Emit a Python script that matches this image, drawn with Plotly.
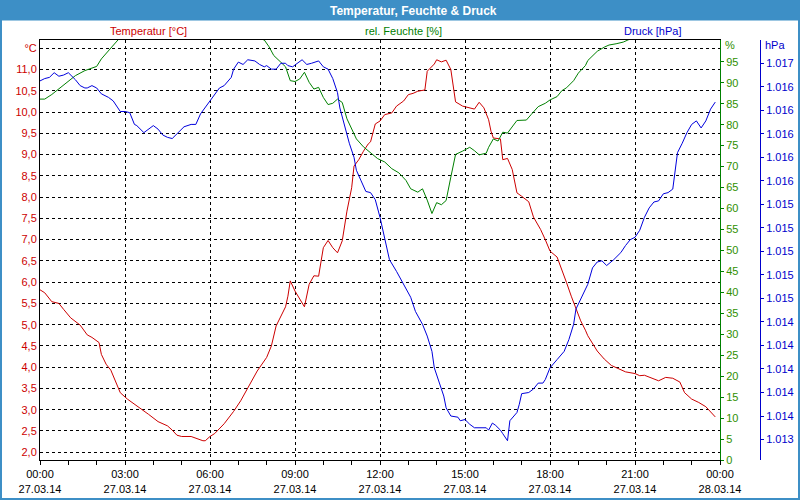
import plotly.graph_objects as go
import pandas as pd

DAY = "2014-03-27 "

temp_times = ["00:00","00:10","00:25","00:40","00:50","01:05","01:25","01:40","01:50","02:05","02:10","02:20","02:30","02:40","02:50",
              "03:05","03:20","03:35","03:50","04:10","04:30","04:40","04:50","05:00","05:20","05:45","05:50","06:00","06:10","06:30",
              "06:50","07:05","07:20","07:40","08:00","08:10","08:20","08:30","08:40","08:45","08:50","09:00","09:20","09:30","09:40",
              "09:50","10:00","10:10","10:20","10:30","10:40","10:50","10:55","11:00","11:05","11:15","11:25","11:35","11:40","11:50",
              "12:00","12:10","12:25","12:35","12:50","13:00","13:10","13:20","13:35","13:40","13:55","14:00","14:10","14:20","14:30",
              "14:35","14:40","14:55","15:10","15:20","15:30","15:40","15:50","15:55","16:00","16:15","16:20","16:30","16:40","16:50",
              "17:00","17:15","17:25","17:40","17:50","18:00","18:15","18:25","18:35","18:45","18:55","19:05","19:15","19:20","19:40",
              "19:55","20:10","20:25","20:40","21:00","21:10","21:20","21:35","21:50","22:05","22:20","22:35","22:45","23:00","23:15",
              "23:30","23:40","23:50"]
temp_values = [5.82,5.75,5.54,5.50,5.36,5.16,4.99,4.76,4.70,4.58,4.30,4.07,3.93,3.68,3.40,
               3.25,3.13,3.03,2.89,2.72,2.62,2.52,2.40,2.37,2.37,2.27,2.27,2.37,2.44,2.67,
               2.96,3.21,3.50,3.91,4.23,4.50,4.97,5.20,5.42,5.67,6.03,5.79,5.42,5.95,6.15,
               6.14,6.81,6.98,6.81,6.69,6.97,7.67,7.98,8.22,8.73,8.88,9.08,9.25,9.30,9.72,
               9.79,9.94,9.98,10.14,10.26,10.41,10.44,10.49,10.52,10.96,11.13,11.23,11.18,11.22,11.00,
               10.57,10.24,10.14,10.10,10.07,10.23,10.10,9.82,9.55,9.39,9.37,8.88,8.91,8.65,8.10,
               8.02,7.89,7.53,7.24,7.00,6.73,6.59,6.30,5.99,5.67,5.36,5.09,4.87,4.74,4.38,
               4.19,4.04,3.97,3.89,3.85,3.80,3.81,3.74,3.68,3.76,3.74,3.65,3.40,3.25,3.17,
               3.07,2.96,2.83]

hum_times = ["00:00","00:10","00:25","00:40","01:00","01:15","01:35","02:00","02:10","02:30","02:45","03:00","04:00","05:00","06:00",
             "07:00","07:30","07:55","08:05","08:15","08:30","08:40","08:50","09:00","09:10","09:20","09:30","09:40","09:50","10:00",
             "10:10","10:20","10:30","10:40","10:50","11:00","11:10","11:25","11:40","11:55","12:10","12:25","12:40","12:55","13:05",
             "13:20","13:30","13:40","13:50","14:00","14:10","14:20","14:30","14:40","14:55","15:10","15:20","15:30","15:45","15:50",
             "16:00","16:10","16:20","16:30","16:50","17:10","17:20","17:35","17:50","18:00","18:15","18:25","18:35","18:50","19:00",
             "19:15","19:20","19:40","19:55","20:05","20:20","20:35","20:45","21:00","22:00","23:00","23:50"]
hum_values = [86.1,86.1,87.2,88.5,90.4,91.7,92.9,93.9,95.7,98.3,100.2,101.5,102.5,102.5,102.5,
              102.0,101.0,100.2,98.6,96.5,94.9,93.8,90.5,90.3,90.9,92.5,90.1,88.5,88.9,86.5,
              84.8,85.1,86.1,85.3,81.4,79.0,76.6,74.7,73.2,71.9,71.1,69.5,68.5,66.7,64.7,
              63.9,64.7,62.0,58.8,61.4,60.9,61.9,67.5,72.9,73.7,74.6,73.8,72.8,73.2,74.6,
              76.6,76.1,78.2,78.0,81.0,81.1,82.4,84.3,85.1,85.9,86.7,88.1,88.8,90.5,92.3,
              94.1,95.3,97.5,98.5,99.0,99.3,99.7,100.2,101.0,101.5,101.5,101.5]

press_times = ["00:00","00:10","00:20","00:30","00:40","00:50","01:00","01:05","01:15","01:25","01:35","01:40","01:50","02:00","02:10",
               "02:25","02:35","02:45","02:50","03:00","03:10","03:20","03:25","03:40","03:50","04:00","04:10","04:20","04:30","04:40",
               "04:50","05:05","05:20","05:30","05:40","05:55","06:05","06:20","06:30","06:45","06:50","07:00","07:10","07:20","07:35",
               "07:45","07:55","08:00","08:10","08:20","08:30","08:40","08:45","08:55","09:15","09:25","09:35","09:50","10:00","10:10",
               "10:20","10:30","10:35","10:45","10:55","11:05","11:10","11:20","11:30","11:40","11:50","12:00","12:10","12:20","12:35",
               "12:50","13:05","13:15","13:30","13:40","13:50","13:55","14:05","14:15","14:20","14:30","14:45","14:50","15:00","15:10",
               "15:20","15:35","15:45","15:50","15:58","16:05","16:15","16:20","16:30","16:35","16:50","16:55","17:00","17:15","17:25",
               "17:35","17:45","17:50","18:00","18:15","18:30","18:40","18:50","18:55","19:05","19:15","19:20","19:30","19:40","19:50",
               "20:00","20:15","20:30","20:40","20:50","21:00","21:10","21:20","21:30","21:40","21:50","22:00","22:10","22:20","22:25",
               "22:30","22:40","22:50","23:00","23:10","23:20","23:30","23:40","23:50"]
press_values = [1016.45,1016.47,1016.48,1016.52,1016.49,1016.50,1016.52,1016.50,1016.46,1016.41,1016.39,1016.39,1016.41,1016.39,1016.34,
                1016.31,1016.28,1016.22,1016.19,1016.19,1016.18,1016.08,1016.07,1016.01,1016.04,1016.07,1016.04,1015.99,1015.97,1015.96,
                1016.00,1016.06,1016.08,1016.08,1016.17,1016.25,1016.31,1016.39,1016.41,1016.48,1016.55,1016.61,1016.59,1016.63,1016.62,
                1016.59,1016.57,1016.58,1016.55,1016.55,1016.60,1016.60,1016.58,1016.57,1016.63,1016.59,1016.60,1016.62,1016.57,1016.55,
                1016.47,1016.35,1016.22,1016.07,1015.92,1015.80,1015.69,1015.60,1015.51,1015.50,1015.44,1015.29,1015.12,1014.93,1014.83,
                1014.72,1014.61,1014.49,1014.38,1014.28,1014.15,1014.01,1013.88,1013.77,1013.67,1013.60,1013.59,1013.56,1013.57,1013.53,
                1013.50,1013.50,1013.50,1013.48,1013.54,1013.52,1013.48,1013.45,1013.39,1013.56,1013.63,1013.70,1013.79,1013.80,1013.83,
                1013.88,1013.88,1013.91,1014.01,1014.08,1014.15,1014.25,1014.38,1014.51,1014.59,1014.67,1014.72,1014.86,1014.91,1014.92,
                1014.88,1014.93,1014.99,1015.05,1015.10,1015.12,1015.18,1015.29,1015.37,1015.42,1015.43,1015.49,1015.50,1015.53,1015.71,
                1015.84,1015.92,1016.01,1016.08,1016.11,1016.05,1016.11,1016.21,1016.27]

x_tick_vals = ["2014-03-27 00:00","2014-03-27 03:00","2014-03-27 06:00","2014-03-27 09:00","2014-03-27 12:00",
               "2014-03-27 15:00","2014-03-27 18:00","2014-03-27 21:00","2014-03-28 00:00"]
x_tick_text = ["00:00<br>27.03.14","03:00<br>27.03.14","06:00<br>27.03.14","09:00<br>27.03.14","12:00<br>27.03.14",
               "15:00<br>27.03.14","18:00<br>27.03.14","21:00<br>27.03.14","00:00<br>28.03.14"]
temp_tick_vals = [2.0,2.5,3.0,3.5,4.0,4.5,5.0,5.5,6.0,6.5,7.0,7.5,8.0,8.5,9.0,9.5,10.0,10.5,11.0,11.5]
temp_tick_text = ["2,0","2,5","3,0","3,5","4,0","4,5","5,0","5,5","6,0","6,5","7,0","7,5","8,0","8,5","9,0","9,5",
                  "10,0","10,5","11,0","°C"]
hum_tick_vals = [0,5,10,15,20,25,30,35,40,45,50,55,60,65,70,75,80,85,90,95]
press_tick_vals = [1013.4,1013.6,1013.8,1014.0,1014.2,1014.4,1014.6,1014.8,1015.0,1015.2,1015.4,1015.6,1015.8,
                   1016.0,1016.2,1016.4,1016.6]
press_tick_text = ["1.013","1.014","1.014","1.014","1.014","1.014","1.015","1.015","1.015","1.015","1.015",
                   "1.016","1.016","1.016","1.016","1.016","1.017"]

RED = "#cc0000"
GREEN = "#008000"
GREEN_TXT = "#2f8f00"
BLUE = "#0000cc"
BAR = "#3d8fc6"
FONT = "Liberation Sans"

def ts(times):
    return pd.to_datetime([DAY + t for t in times])

fig = go.Figure()
fig.add_trace(go.Scatter(x=ts(hum_times), y=hum_values, yaxis="y2", mode="lines",
                         line=dict(color=GREEN, width=1), name="rel. Feuchte [%]"))
fig.add_trace(go.Scatter(x=ts(press_times), y=press_values, yaxis="y3", mode="lines",
                         line=dict(color="#0000dd", width=1), name="Druck [hPa]"))
fig.add_trace(go.Scatter(x=ts(temp_times), y=temp_values, yaxis="y", mode="lines",
                         line=dict(color=RED, width=1), name="Temperatur [°C]"))

W_DOM = 680 / 720

fig.update_layout(
    width=800, height=500,
    margin=dict(l=40, r=40, t=40, b=40, autoexpand=False),
    paper_bgcolor="white", plot_bgcolor="white",
    showlegend=False,
    font=dict(family=FONT, size=11, color="black"),
    xaxis=dict(
        domain=[0, W_DOM], type="date", automargin=False,
        range=["2014-03-27 00:00", "2014-03-28 00:00"],
        tickmode="array", tickvals=x_tick_vals, ticktext=x_tick_text,
        ticks="outside", ticklen=4, tickcolor="black",
        showline=True, linecolor="black", linewidth=1, mirror=True,
        showgrid=True, gridcolor="black", gridwidth=1, griddash="3px,3px",
        zeroline=False,
        tickfont=dict(family=FONT, size=11, color="black"),
        minor=dict(tick0="2014-03-27 00:00", dtick=3600000, ticks="outside", ticklen=4,
                   tickcolor="black", showgrid=False),
    ),
    yaxis=dict(
        range=[1.817, 11.695], automargin=False,
        tickmode="array", tickvals=temp_tick_vals, ticktext=temp_tick_text,
        ticks="", showline=True, linecolor="black", linewidth=1,
        showgrid=True, gridcolor="black", gridwidth=1, griddash="3px,3px",
        zeroline=False,
        tickfont=dict(family=FONT, size=11, color=RED),
    ),
    yaxis2=dict(
        overlaying="y", side="right", anchor="x", automargin=False,
        range=[0, 100.2],
        tickmode="array", tickvals=hum_tick_vals,
        ticks="outside", ticklen=3, tickcolor=GREEN,
        showline=True, linecolor=GREEN, linewidth=1,
        showgrid=False, zeroline=False,
        tickfont=dict(family=FONT, size=11, color=GREEN_TXT),
    ),
    yaxis3=dict(
        overlaying="y", side="right", anchor="free", position=1.0, automargin=False,
        range=[1013.226, 1016.798],
        tickmode="array", tickvals=press_tick_vals, ticktext=press_tick_text,
        ticks="outside", ticklen=3, tickcolor=BLUE,
        showline=True, linecolor=BLUE, linewidth=1,
        showgrid=False, zeroline=False,
        tickfont=dict(family=FONT, size=11, color=BLUE),
    ),
)

def px(x):
    return (x - 40) / 720

def py(y):
    return (460 - y) / 420

shapes = [
    dict(type="rect", xref="paper", yref="paper", x0=px(0), x1=px(800), y0=py(20.5), y1=py(0),
         fillcolor=BAR, line=dict(width=0), layer="above"),
    dict(type="rect", xref="paper", yref="paper", x0=px(1), x1=px(799), y0=py(499), y1=py(1),
         fillcolor="rgba(0,0,0,0)", line=dict(color=BAR, width=2), layer="above"),
]
fig.update_layout(shapes=shapes)

annotations = [
    dict(text="<b>Temperatur, Feuchte & Druck</b>", x=px(413), y=py(10.5), xref="paper", yref="paper",
         showarrow=False, xanchor="center", yanchor="middle", font=dict(family=FONT, size=12, color="white")),
    dict(text="Temperatur [°C]", x=px(148), y=py(31), xref="paper", yref="paper",
         showarrow=False, xanchor="center", yanchor="middle", font=dict(family=FONT, size=11, color=RED)),
    dict(text="rel. Feuchte [%]", x=px(403), y=py(31), xref="paper", yref="paper",
         showarrow=False, xanchor="center", yanchor="middle", font=dict(family=FONT, size=11, color=GREEN)),
    dict(text="Druck [hPa]", x=px(652), y=py(31), xref="paper", yref="paper",
         showarrow=False, xanchor="center", yanchor="middle", font=dict(family=FONT, size=11, color=BLUE)),
    dict(text="%", x=px(723), y=py(45.5), xref="paper", yref="paper",
         showarrow=False, xanchor="left", yanchor="middle", font=dict(family=FONT, size=11, color=GREEN_TXT)),
    dict(text="hPa", x=px(763), y=py(45.5), xref="paper", yref="paper",
         showarrow=False, xanchor="left", yanchor="middle", font=dict(family=FONT, size=11, color=BLUE)),
]
fig.update_layout(annotations=annotations)

fig.write_html("out.html", config={"displayModeBar": False},
               post_script="document.body.style.margin='0';document.body.style.overflow='hidden';")
